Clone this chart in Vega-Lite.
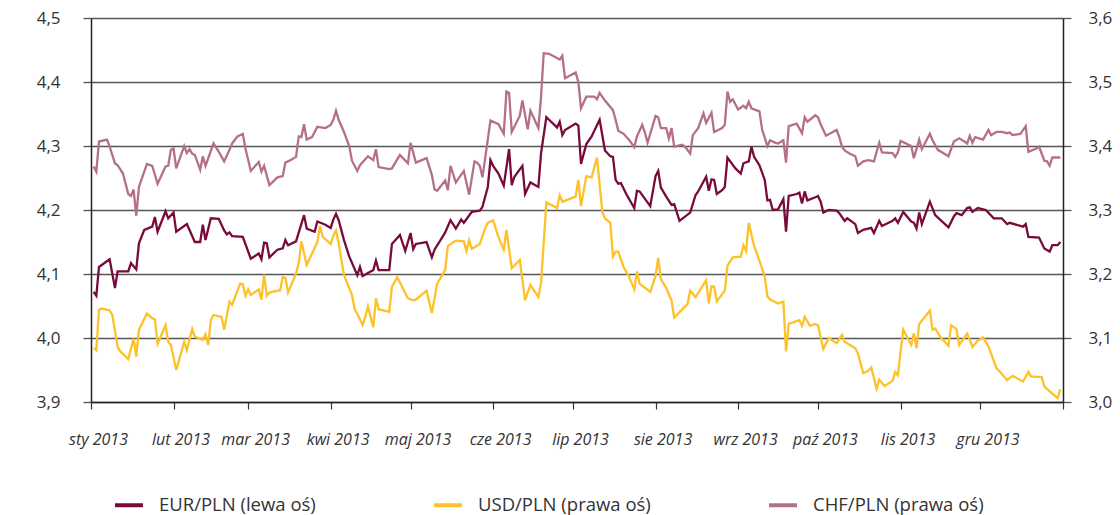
{
"$schema": "https://vega.github.io/schema/vega-lite/v6.json",
"width": 972, "height": 384,
"autosize": {"type": "none"},
"padding": {"left": 91, "top": 18, "right": 57, "bottom": 113},
"background": "white",
"config": {"view": {"stroke": null}},
"datasets": {
"eur": [
{"d":"2013/01/02","v":4.072},{"d":"2013/01/03","v":4.066},{"d":"2013/01/04","v":4.111},{"d":"2013/01/08","v":4.123},{"d":"2013/01/10","v":4.078},{"d":"2013/01/11","v":4.104},{"d":"2013/01/15","v":4.104},{"d":"2013/01/16","v":4.117},{"d":"2013/01/18","v":4.107},{"d":"2013/01/19","v":4.148},{"d":"2013/01/21","v":4.169},{"d":"2013/01/24","v":4.174},{"d":"2013/01/25","v":4.189},{"d":"2013/01/26","v":4.166},{"d":"2013/01/29","v":4.198},{"d":"2013/01/30","v":4.187},{"d":"2013/02/01","v":4.196},{"d":"2013/02/02","v":4.166},{"d":"2013/02/06","v":4.178},{"d":"2013/02/09","v":4.150},{"d":"2013/02/11","v":4.150},{"d":"2013/02/12","v":4.177},{"d":"2013/02/13","v":4.153},{"d":"2013/02/15","v":4.187},{"d":"2013/02/18","v":4.186},{"d":"2013/02/20","v":4.168},{"d":"2013/02/21","v":4.162},{"d":"2013/02/22","v":4.165},{"d":"2013/02/23","v":4.159},{"d":"2013/02/27","v":4.158},{"d":"2013/03/02","v":4.124},{"d":"2013/03/05","v":4.132},{"d":"2013/03/06","v":4.123},{"d":"2013/03/07","v":4.149},{"d":"2013/03/08","v":4.148},{"d":"2013/03/09","v":4.126},{"d":"2013/03/12","v":4.138},{"d":"2013/03/14","v":4.140},{"d":"2013/03/15","v":4.153},{"d":"2013/03/16","v":4.145},{"d":"2013/03/19","v":4.151},{"d":"2013/03/22","v":4.192},{"d":"2013/03/23","v":4.171},{"d":"2013/03/26","v":4.166},{"d":"2013/03/27","v":4.182},{"d":"2013/03/30","v":4.177},{"d":"2013/04/01","v":4.172},{"d":"2013/04/02","v":4.185},{"d":"2013/04/03","v":4.194},{"d":"2013/04/04","v":4.184},{"d":"2013/04/06","v":4.153},{"d":"2013/04/08","v":4.127},{"d":"2013/04/11","v":4.098},{"d":"2013/04/12","v":4.111},{"d":"2013/04/13","v":4.097},{"d":"2013/04/16","v":4.104},{"d":"2013/04/17","v":4.106},{"d":"2013/04/18","v":4.121},{"d":"2013/04/19","v":4.106},{"d":"2013/04/23","v":4.106},{"d":"2013/04/24","v":4.147},{"d":"2013/04/27","v":4.161},{"d":"2013/04/29","v":4.136},{"d":"2013/05/01","v":4.164},{"d":"2013/05/02","v":4.139},{"d":"2013/05/03","v":4.147},{"d":"2013/05/07","v":4.150},{"d":"2013/05/09","v":4.126},{"d":"2013/05/10","v":4.138},{"d":"2013/05/13","v":4.158},{"d":"2013/05/14","v":4.165},{"d":"2013/05/16","v":4.184},{"d":"2013/05/18","v":4.171},{"d":"2013/05/20","v":4.185},{"d":"2013/05/21","v":4.180},{"d":"2013/05/24","v":4.197},{"d":"2013/05/27","v":4.199},{"d":"2013/05/28","v":4.205},{"d":"2013/05/30","v":4.236},{"d":"2013/05/31","v":4.278},{"d":"2013/06/01","v":4.269},{"d":"2013/06/03","v":4.257},{"d":"2013/06/05","v":4.238},{"d":"2013/06/07","v":4.295},{"d":"2013/06/08","v":4.239},{"d":"2013/06/09","v":4.252},{"d":"2013/06/12","v":4.269},{"d":"2013/06/13","v":4.225},{"d":"2013/06/15","v":4.243},{"d":"2013/06/18","v":4.236},{"d":"2013/06/19","v":4.289},{"d":"2013/06/21","v":4.345},{"d":"2013/06/22","v":4.341},{"d":"2013/06/25","v":4.329},{"d":"2013/06/26","v":4.338},{"d":"2013/06/27","v":4.317},{"d":"2013/06/28","v":4.325},{"d":"2013/07/02","v":4.335},{"d":"2013/07/03","v":4.332},{"d":"2013/07/04","v":4.272},{"d":"2013/07/06","v":4.303},{"d":"2013/07/08","v":4.315},{"d":"2013/07/09","v":4.324},{"d":"2013/07/11","v":4.341},{"d":"2013/07/13","v":4.293},{"d":"2013/07/15","v":4.284},{"d":"2013/07/16","v":4.283},{"d":"2013/07/17","v":4.247},{"d":"2013/07/18","v":4.241},{"d":"2013/07/19","v":4.242},{"d":"2013/07/21","v":4.225},{"d":"2013/07/24","v":4.203},{"d":"2013/07/25","v":4.230},{"d":"2013/07/26","v":4.229},{"d":"2013/07/30","v":4.206},{"d":"2013/08/01","v":4.253},{"d":"2013/08/02","v":4.261},{"d":"2013/08/03","v":4.235},{"d":"2013/08/05","v":4.221},{"d":"2013/08/07","v":4.208},{"d":"2013/08/08","v":4.209},{"d":"2013/08/10","v":4.183},{"d":"2013/08/14","v":4.196},{"d":"2013/08/16","v":4.223},{"d":"2013/08/17","v":4.229},{"d":"2013/08/20","v":4.252},{"d":"2013/08/21","v":4.230},{"d":"2013/08/22","v":4.248},{"d":"2013/08/23","v":4.247},{"d":"2013/08/24","v":4.225},{"d":"2013/08/26","v":4.231},{"d":"2013/08/27","v":4.236},{"d":"2013/08/28","v":4.282},{"d":"2013/08/31","v":4.265},{"d":"2013/09/02","v":4.257},{"d":"2013/09/03","v":4.273},{"d":"2013/09/05","v":4.276},{"d":"2013/09/06","v":4.299},{"d":"2013/09/07","v":4.283},{"d":"2013/09/09","v":4.270},{"d":"2013/09/11","v":4.247},{"d":"2013/09/12","v":4.215},{"d":"2013/09/13","v":4.216},{"d":"2013/09/14","v":4.200},{"d":"2013/09/16","v":4.201},{"d":"2013/09/18","v":4.217},{"d":"2013/09/19","v":4.166},{"d":"2013/09/20","v":4.222},{"d":"2013/09/23","v":4.225},{"d":"2013/09/24","v":4.227},{"d":"2013/09/25","v":4.210},{"d":"2013/09/26","v":4.229},{"d":"2013/09/27","v":4.215},{"d":"2013/09/30","v":4.220},{"d":"2013/10/01","v":4.222},{"d":"2013/10/02","v":4.213},{"d":"2013/10/03","v":4.196},{"d":"2013/10/05","v":4.200},{"d":"2013/10/08","v":4.199},{"d":"2013/10/09","v":4.195},{"d":"2013/10/11","v":4.183},{"d":"2013/10/12","v":4.187},{"d":"2013/10/15","v":4.178},{"d":"2013/10/16","v":4.164},{"d":"2013/10/18","v":4.169},{"d":"2013/10/21","v":4.172},{"d":"2013/10/22","v":4.164},{"d":"2013/10/24","v":4.183},{"d":"2013/10/25","v":4.175},{"d":"2013/10/29","v":4.183},{"d":"2013/10/30","v":4.187},{"d":"2013/10/31","v":4.180},{"d":"2013/11/02","v":4.197},{"d":"2013/11/05","v":4.182},{"d":"2013/11/06","v":4.180},{"d":"2013/11/07","v":4.171},{"d":"2013/11/08","v":4.196},{"d":"2013/11/09","v":4.178},{"d":"2013/11/12","v":4.213},{"d":"2013/11/14","v":4.192},{"d":"2013/11/19","v":4.173},{"d":"2013/11/21","v":4.190},{"d":"2013/11/22","v":4.195},{"d":"2013/11/24","v":4.192},{"d":"2013/11/26","v":4.203},{"d":"2013/11/27","v":4.204},{"d":"2013/11/28","v":4.197},{"d":"2013/11/30","v":4.203},{"d":"2013/12/03","v":4.200},{"d":"2013/12/06","v":4.187},{"d":"2013/12/09","v":4.187},{"d":"2013/12/11","v":4.178},{"d":"2013/12/12","v":4.180},{"d":"2013/12/17","v":4.174},{"d":"2013/12/18","v":4.178},{"d":"2013/12/19","v":4.158},{"d":"2013/12/23","v":4.157},{"d":"2013/12/25","v":4.140},{"d":"2013/12/27","v":4.135},{"d":"2013/12/28","v":4.145},{"d":"2013/12/30","v":4.145},{"d":"2013/12/31","v":4.150}
],
"usd": [
{"d":"2013/01/02","v":3.084},{"d":"2013/01/03","v":3.081},{"d":"2013/01/04","v":3.144},{"d":"2013/01/05","v":3.146},{"d":"2013/01/08","v":3.143},{"d":"2013/01/09","v":3.136},{"d":"2013/01/11","v":3.086},{"d":"2013/01/12","v":3.079},{"d":"2013/01/15","v":3.067},{"d":"2013/01/17","v":3.099},{"d":"2013/01/18","v":3.071},{"d":"2013/01/19","v":3.113},{"d":"2013/01/22","v":3.138},{"d":"2013/01/24","v":3.131},{"d":"2013/01/25","v":3.129},{"d":"2013/01/26","v":3.091},{"d":"2013/01/29","v":3.120},{"d":"2013/01/30","v":3.094},{"d":"2013/01/31","v":3.089},{"d":"2013/02/02","v":3.050},{"d":"2013/02/05","v":3.094},{"d":"2013/02/06","v":3.081},{"d":"2013/02/08","v":3.114},{"d":"2013/02/09","v":3.102},{"d":"2013/02/12","v":3.097},{"d":"2013/02/13","v":3.106},{"d":"2013/02/14","v":3.089},{"d":"2013/02/15","v":3.128},{"d":"2013/02/16","v":3.136},{"d":"2013/02/19","v":3.133},{"d":"2013/02/20","v":3.113},{"d":"2013/02/22","v":3.157},{"d":"2013/02/23","v":3.152},{"d":"2013/02/26","v":3.185},{"d":"2013/02/27","v":3.184},{"d":"2013/02/28","v":3.166},{"d":"2013/03/01","v":3.176},{"d":"2013/03/02","v":3.167},{"d":"2013/03/05","v":3.176},{"d":"2013/03/06","v":3.160},{"d":"2013/03/07","v":3.199},{"d":"2013/03/08","v":3.166},{"d":"2013/03/09","v":3.171},{"d":"2013/03/12","v":3.174},{"d":"2013/03/13","v":3.174},{"d":"2013/03/14","v":3.195},{"d":"2013/03/15","v":3.194},{"d":"2013/03/16","v":3.171},{"d":"2013/03/19","v":3.201},{"d":"2013/03/20","v":3.217},{"d":"2013/03/21","v":3.251},{"d":"2013/03/23","v":3.214},{"d":"2013/03/27","v":3.250},{"d":"2013/03/28","v":3.275},{"d":"2013/03/29","v":3.258},{"d":"2013/04/01","v":3.247},{"d":"2013/04/02","v":3.260},{"d":"2013/04/03","v":3.268},{"d":"2013/04/04","v":3.248},{"d":"2013/04/06","v":3.198},{"d":"2013/04/09","v":3.167},{"d":"2013/04/10","v":3.145},{"d":"2013/04/11","v":3.138},{"d":"2013/04/13","v":3.120},{"d":"2013/04/14","v":3.133},{"d":"2013/04/15","v":3.149},{"d":"2013/04/17","v":3.117},{"d":"2013/04/18","v":3.162},{"d":"2013/04/19","v":3.145},{"d":"2013/04/23","v":3.141},{"d":"2013/04/24","v":3.180},{"d":"2013/04/26","v":3.195},{"d":"2013/04/30","v":3.162},{"d":"2013/05/02","v":3.159},{"d":"2013/05/03","v":3.160},{"d":"2013/05/07","v":3.174},{"d":"2013/05/09","v":3.139},{"d":"2013/05/11","v":3.185},{"d":"2013/05/14","v":3.206},{"d":"2013/05/15","v":3.244},{"d":"2013/05/18","v":3.252},{"d":"2013/05/21","v":3.251},{"d":"2013/05/22","v":3.236},{"d":"2013/05/23","v":3.253},{"d":"2013/05/24","v":3.239},{"d":"2013/05/27","v":3.247},{"d":"2013/05/29","v":3.271},{"d":"2013/05/30","v":3.280},{"d":"2013/06/01","v":3.284},{"d":"2013/06/03","v":3.258},{"d":"2013/06/05","v":3.238},{"d":"2013/06/06","v":3.269},{"d":"2013/06/08","v":3.209},{"d":"2013/06/11","v":3.222},{"d":"2013/06/13","v":3.159},{"d":"2013/06/15","v":3.183},{"d":"2013/06/18","v":3.164},{"d":"2013/06/19","v":3.186},{"d":"2013/06/21","v":3.312},{"d":"2013/06/25","v":3.303},{"d":"2013/06/26","v":3.323},{"d":"2013/06/27","v":3.313},{"d":"2013/07/02","v":3.321},{"d":"2013/07/03","v":3.347},{"d":"2013/07/04","v":3.306},{"d":"2013/07/06","v":3.353},{"d":"2013/07/08","v":3.351},{"d":"2013/07/10","v":3.382},{"d":"2013/07/12","v":3.297},{"d":"2013/07/13","v":3.287},{"d":"2013/07/15","v":3.280},{"d":"2013/07/16","v":3.227},{"d":"2013/07/17","v":3.235},{"d":"2013/07/18","v":3.235},{"d":"2013/07/20","v":3.211},{"d":"2013/07/22","v":3.196},{"d":"2013/07/24","v":3.176},{"d":"2013/07/25","v":3.204},{"d":"2013/07/26","v":3.185},{"d":"2013/07/30","v":3.172},{"d":"2013/08/01","v":3.197},{"d":"2013/08/02","v":3.225},{"d":"2013/08/03","v":3.192},{"d":"2013/08/05","v":3.178},{"d":"2013/08/07","v":3.159},{"d":"2013/08/08","v":3.132},{"d":"2013/08/13","v":3.153},{"d":"2013/08/14","v":3.174},{"d":"2013/08/16","v":3.164},{"d":"2013/08/20","v":3.190},{"d":"2013/08/21","v":3.154},{"d":"2013/08/22","v":3.181},{"d":"2013/08/23","v":3.180},{"d":"2013/08/24","v":3.157},{"d":"2013/08/27","v":3.174},{"d":"2013/08/28","v":3.213},{"d":"2013/08/30","v":3.226},{"d":"2013/09/02","v":3.227},{"d":"2013/09/03","v":3.245},{"d":"2013/09/04","v":3.236},{"d":"2013/09/05","v":3.280},{"d":"2013/09/07","v":3.244},{"d":"2013/09/09","v":3.221},{"d":"2013/09/11","v":3.196},{"d":"2013/09/12","v":3.165},{"d":"2013/09/13","v":3.160},{"d":"2013/09/16","v":3.154},{"d":"2013/09/18","v":3.157},{"d":"2013/09/19","v":3.079},{"d":"2013/09/20","v":3.122},{"d":"2013/09/24","v":3.128},{"d":"2013/09/25","v":3.119},{"d":"2013/09/26","v":3.133},{"d":"2013/09/28","v":3.119},{"d":"2013/09/30","v":3.122},{"d":"2013/10/01","v":3.120},{"d":"2013/10/02","v":3.101},{"d":"2013/10/03","v":3.083},{"d":"2013/10/05","v":3.100},{"d":"2013/10/08","v":3.092},{"d":"2013/10/10","v":3.105},{"d":"2013/10/11","v":3.094},{"d":"2013/10/15","v":3.084},{"d":"2013/10/16","v":3.076},{"d":"2013/10/18","v":3.045},{"d":"2013/10/20","v":3.049},{"d":"2013/10/21","v":3.054},{"d":"2013/10/23","v":3.021},{"d":"2013/10/24","v":3.035},{"d":"2013/10/26","v":3.025},{"d":"2013/10/29","v":3.033},{"d":"2013/10/30","v":3.047},{"d":"2013/10/31","v":3.042},{"d":"2013/11/02","v":3.113},{"d":"2013/11/05","v":3.089},{"d":"2013/11/06","v":3.107},{"d":"2013/11/07","v":3.084},{"d":"2013/11/08","v":3.122},{"d":"2013/11/12","v":3.143},{"d":"2013/11/13","v":3.113},{"d":"2013/11/14","v":3.115},{"d":"2013/11/16","v":3.101},{"d":"2013/11/19","v":3.088},{"d":"2013/11/20","v":3.120},{"d":"2013/11/22","v":3.114},{"d":"2013/11/23","v":3.089},{"d":"2013/11/26","v":3.107},{"d":"2013/11/27","v":3.097},{"d":"2013/11/28","v":3.086},{"d":"2013/11/30","v":3.096},{"d":"2013/12/02","v":3.101},{"d":"2013/12/04","v":3.087},{"d":"2013/12/07","v":3.053},{"d":"2013/12/09","v":3.044},{"d":"2013/12/11","v":3.034},{"d":"2013/12/13","v":3.041},{"d":"2013/12/17","v":3.032},{"d":"2013/12/19","v":3.047},{"d":"2013/12/20","v":3.040},{"d":"2013/12/24","v":3.039},{"d":"2013/12/25","v":3.024},{"d":"2013/12/30","v":3.006},{"d":"2013/12/31","v":3.020}
],
"chf": [
{"d":"2013/01/02","v":3.368},{"d":"2013/01/03","v":3.360},{"d":"2013/01/04","v":3.407},{"d":"2013/01/07","v":3.410},{"d":"2013/01/08","v":3.399},{"d":"2013/01/10","v":3.373},{"d":"2013/01/11","v":3.370},{"d":"2013/01/13","v":3.357},{"d":"2013/01/15","v":3.325},{"d":"2013/01/16","v":3.322},{"d":"2013/01/17","v":3.332},{"d":"2013/01/18","v":3.291},{"d":"2013/01/19","v":3.336},{"d":"2013/01/22","v":3.372},{"d":"2013/01/24","v":3.369},{"d":"2013/01/26","v":3.341},{"d":"2013/01/29","v":3.368},{"d":"2013/01/30","v":3.369},{"d":"2013/01/31","v":3.394},{"d":"2013/02/01","v":3.396},{"d":"2013/02/02","v":3.365},{"d":"2013/02/05","v":3.400},{"d":"2013/02/06","v":3.389},{"d":"2013/02/07","v":3.395},{"d":"2013/02/08","v":3.388},{"d":"2013/02/09","v":3.386},{"d":"2013/02/11","v":3.363},{"d":"2013/02/12","v":3.384},{"d":"2013/02/13","v":3.369},{"d":"2013/02/16","v":3.404},{"d":"2013/02/18","v":3.391},{"d":"2013/02/20","v":3.376},{"d":"2013/02/22","v":3.394},{"d":"2013/02/23","v":3.404},{"d":"2013/02/25","v":3.415},{"d":"2013/02/27","v":3.419},{"d":"2013/02/28","v":3.396},{"d":"2013/03/02","v":3.361},{"d":"2013/03/05","v":3.375},{"d":"2013/03/06","v":3.360},{"d":"2013/03/07","v":3.369},{"d":"2013/03/09","v":3.339},{"d":"2013/03/12","v":3.351},{"d":"2013/03/14","v":3.353},{"d":"2013/03/15","v":3.374},{"d":"2013/03/17","v":3.378},{"d":"2013/03/19","v":3.383},{"d":"2013/03/20","v":3.415},{"d":"2013/03/21","v":3.414},{"d":"2013/03/22","v":3.434},{"d":"2013/03/23","v":3.410},{"d":"2013/03/25","v":3.414},{"d":"2013/03/27","v":3.430},{"d":"2013/03/30","v":3.428},{"d":"2013/04/01","v":3.433},{"d":"2013/04/02","v":3.441},{"d":"2013/04/03","v":3.455},{"d":"2013/04/04","v":3.441},{"d":"2013/04/06","v":3.422},{"d":"2013/04/08","v":3.399},{"d":"2013/04/09","v":3.377},{"d":"2013/04/11","v":3.361},{"d":"2013/04/12","v":3.370},{"d":"2013/04/15","v":3.384},{"d":"2013/04/17","v":3.378},{"d":"2013/04/18","v":3.395},{"d":"2013/04/19","v":3.367},{"d":"2013/04/23","v":3.364},{"d":"2013/04/24","v":3.365},{"d":"2013/04/27","v":3.386},{"d":"2013/04/30","v":3.373},{"d":"2013/05/01","v":3.405},{"d":"2013/05/03","v":3.374},{"d":"2013/05/07","v":3.381},{"d":"2013/05/09","v":3.355},{"d":"2013/05/10","v":3.332},{"d":"2013/05/11","v":3.330},{"d":"2013/05/14","v":3.346},{"d":"2013/05/15","v":3.331},{"d":"2013/05/16","v":3.369},{"d":"2013/05/18","v":3.343},{"d":"2013/05/21","v":3.361},{"d":"2013/05/23","v":3.324},{"d":"2013/05/25","v":3.376},{"d":"2013/05/26","v":3.374},{"d":"2013/05/27","v":3.369},{"d":"2013/05/28","v":3.351},{"d":"2013/05/30","v":3.410},{"d":"2013/05/31","v":3.440},{"d":"2013/06/03","v":3.434},{"d":"2013/06/05","v":3.419},{"d":"2013/06/06","v":3.485},{"d":"2013/06/07","v":3.483},{"d":"2013/06/08","v":3.422},{"d":"2013/06/11","v":3.447},{"d":"2013/06/12","v":3.471},{"d":"2013/06/14","v":3.426},{"d":"2013/06/15","v":3.455},{"d":"2013/06/18","v":3.428},{"d":"2013/06/19","v":3.477},{"d":"2013/06/20","v":3.545},{"d":"2013/06/22","v":3.544},{"d":"2013/06/26","v":3.535},{"d":"2013/06/27","v":3.541},{"d":"2013/06/28","v":3.506},{"d":"2013/07/02","v":3.515},{"d":"2013/07/03","v":3.500},{"d":"2013/07/04","v":3.459},{"d":"2013/07/06","v":3.477},{"d":"2013/07/09","v":3.477},{"d":"2013/07/10","v":3.473},{"d":"2013/07/11","v":3.483},{"d":"2013/07/13","v":3.471},{"d":"2013/07/16","v":3.456},{"d":"2013/07/17","v":3.441},{"d":"2013/07/18","v":3.424},{"d":"2013/07/20","v":3.419},{"d":"2013/07/22","v":3.410},{"d":"2013/07/24","v":3.398},{"d":"2013/07/25","v":3.415},{"d":"2013/07/27","v":3.433},{"d":"2013/07/28","v":3.421},{"d":"2013/07/29","v":3.405},{"d":"2013/08/01","v":3.447},{"d":"2013/08/02","v":3.445},{"d":"2013/08/03","v":3.428},{"d":"2013/08/05","v":3.428},{"d":"2013/08/06","v":3.412},{"d":"2013/08/07","v":3.428},{"d":"2013/08/08","v":3.399},{"d":"2013/08/11","v":3.402},{"d":"2013/08/12","v":3.399},{"d":"2013/08/14","v":3.388},{"d":"2013/08/15","v":3.417},{"d":"2013/08/17","v":3.428},{"d":"2013/08/19","v":3.451},{"d":"2013/08/20","v":3.436},{"d":"2013/08/22","v":3.452},{"d":"2013/08/23","v":3.422},{"d":"2013/08/26","v":3.428},{"d":"2013/08/27","v":3.433},{"d":"2013/08/28","v":3.485},{"d":"2013/08/29","v":3.469},{"d":"2013/08/30","v":3.473},{"d":"2013/09/01","v":3.457},{"d":"2013/09/03","v":3.463},{"d":"2013/09/04","v":3.459},{"d":"2013/09/05","v":3.469},{"d":"2013/09/06","v":3.459},{"d":"2013/09/09","v":3.454},{"d":"2013/09/10","v":3.426},{"d":"2013/09/12","v":3.400},{"d":"2013/09/13","v":3.409},{"d":"2013/09/15","v":3.405},{"d":"2013/09/16","v":3.404},{"d":"2013/09/18","v":3.409},{"d":"2013/09/19","v":3.374},{"d":"2013/09/20","v":3.431},{"d":"2013/09/23","v":3.435},{"d":"2013/09/25","v":3.420},{"d":"2013/09/26","v":3.445},{"d":"2013/09/27","v":3.438},{"d":"2013/09/30","v":3.448},{"d":"2013/10/01","v":3.445},{"d":"2013/10/02","v":3.434},{"d":"2013/10/04","v":3.416},{"d":"2013/10/08","v":3.425},{"d":"2013/10/09","v":3.414},{"d":"2013/10/10","v":3.399},{"d":"2013/10/11","v":3.393},{"d":"2013/10/13","v":3.388},{"d":"2013/10/15","v":3.384},{"d":"2013/10/16","v":3.369},{"d":"2013/10/18","v":3.376},{"d":"2013/10/20","v":3.378},{"d":"2013/10/22","v":3.376},{"d":"2013/10/24","v":3.405},{"d":"2013/10/25","v":3.390},{"d":"2013/10/29","v":3.389},{"d":"2013/10/30","v":3.383},{"d":"2013/10/31","v":3.390},{"d":"2013/11/01","v":3.408},{"d":"2013/11/05","v":3.400},{"d":"2013/11/06","v":3.381},{"d":"2013/11/08","v":3.410},{"d":"2013/11/09","v":3.395},{"d":"2013/11/12","v":3.419},{"d":"2013/11/13","v":3.409},{"d":"2013/11/15","v":3.394},{"d":"2013/11/19","v":3.384},{"d":"2013/11/21","v":3.407},{"d":"2013/11/23","v":3.412},{"d":"2013/11/25","v":3.407},{"d":"2013/11/26","v":3.404},{"d":"2013/11/27","v":3.416},{"d":"2013/11/28","v":3.405},{"d":"2013/11/29","v":3.414},{"d":"2013/12/02","v":3.410},{"d":"2013/12/04","v":3.425},{"d":"2013/12/05","v":3.417},{"d":"2013/12/07","v":3.422},{"d":"2013/12/09","v":3.422},{"d":"2013/12/11","v":3.420},{"d":"2013/12/12","v":3.421},{"d":"2013/12/13","v":3.417},{"d":"2013/12/16","v":3.419},{"d":"2013/12/18","v":3.431},{"d":"2013/12/19","v":3.391},{"d":"2013/12/22","v":3.396},{"d":"2013/12/23","v":3.399},{"d":"2013/12/25","v":3.377},{"d":"2013/12/26","v":3.376},{"d":"2013/12/27","v":3.369},{"d":"2013/12/28","v":3.382},{"d":"2013/12/31","v":3.382}
]
},
"encoding": {
  "x": {
    "field": "d", "type": "temporal",
    "scale": {"domain": [{"year": 2013, "month": 1, "date": 1}, {"year": 2014, "month": 1, "date": 1}], "nice": false},
    "axis": {
      "title": null, "grid": false,
      "tickCount": {"interval": "month", "step": 1},
      "labelExpr": "year(datum.value) > 2013 ? '' : ['sty','lut','mar','kwi','maj','cze','lip','sie','wrz','paź','lis','gru'][month(datum.value)] + ' 2013'",
      "labelFlush": false, "labelOverlap": false, "labelBound": false,
      "labelOffset": 7, "labelAlign": "center", "labelPadding": 22,
      "labelFont": "Open Sans", "labelFontStyle": "italic", "labelFontSize": 16, "labelColor": "#333333",
      "domainColor": "#222222", "domainWidth": 1.5,
      "tickColor": "#333333", "tickSize": 7, "tickWidth": 1.2
    }
  }
},
"layer": [
  {
    "data": {"name": "eur"},
    "mark": {"type": "line", "strokeWidth": 2.3},
    "encoding": {
      "y": {
        "field": "v", "type": "quantitative",
        "scale": {"domain": [3.9, 4.5], "nice": false, "zero": false},
        "axis": {
          "orient": "left", "title": null,
          "values": [3.9, 4.0, 4.1, 4.2, 4.3, 4.4, 4.5],
          "labelExpr": "replace(format(datum.value, '.1f'), '.', ',')",
          "grid": true, "gridColor": "#555555", "gridWidth": 1.3,
          "domainColor": "#222222", "domainWidth": 1.5,
          "tickColor": "#555555", "tickSize": 8, "tickWidth": 1.3,
          "labelPadding": 23, "labelFont": "Open Sans", "labelFontSize": 17, "labelColor": "#333333"
        }
      },
      "color": {
        "datum": "EUR/PLN (lewa oś)", "type": "nominal",
        "scale": {
          "domain": ["EUR/PLN (lewa oś)", "USD/PLN (prawa oś)", "CHF/PLN (prawa oś)"],
          "range": ["#780A3C", "#FDC12A", "#B4708A"]
        },
        "legend": {
          "title": null, "orient": "none", "legendX": 22, "legendY": 471,
          "direction": "horizontal", "columns": 3, "columnPadding": 110,
          "symbolType": "stroke", "symbolSize": 784, "symbolStrokeWidth": 4,
          "labelFont": "Open Sans", "labelFontSize": 18.5, "labelColor": "#333333",
          "labelOffset": 14, "labelLimit": 400
        }
      }
    }
  },
  {
    "layer": [
      {
        "data": {"name": "usd"},
        "mark": {"type": "line", "strokeWidth": 2.3},
        "encoding": {
          "y": {
            "field": "v", "type": "quantitative",
            "scale": {"domain": [3.0, 3.6], "nice": false, "zero": false},
            "axis": {
              "orient": "right", "title": null,
              "values": [3.0, 3.1, 3.2, 3.3, 3.4, 3.5, 3.6],
              "labelExpr": "replace(format(datum.value, '.1f'), '.', ',')",
              "grid": false,
              "domainColor": "#222222", "domainWidth": 1.5,
              "tickColor": "#555555", "tickSize": 8, "tickWidth": 1.3,
              "labelPadding": 17, "labelFont": "Open Sans", "labelFontSize": 17, "labelColor": "#333333"
            }
          },
          "color": {"datum": "USD/PLN (prawa oś)", "type": "nominal"}
        }
      },
      {
        "data": {"name": "chf"},
        "mark": {"type": "line", "strokeWidth": 2.3},
        "encoding": {
          "y": {"field": "v", "type": "quantitative"},
          "color": {"datum": "CHF/PLN (prawa oś)", "type": "nominal"}
        }
      }
    ]
  }
],
"resolve": {"scale": {"y": "independent"}}
}
